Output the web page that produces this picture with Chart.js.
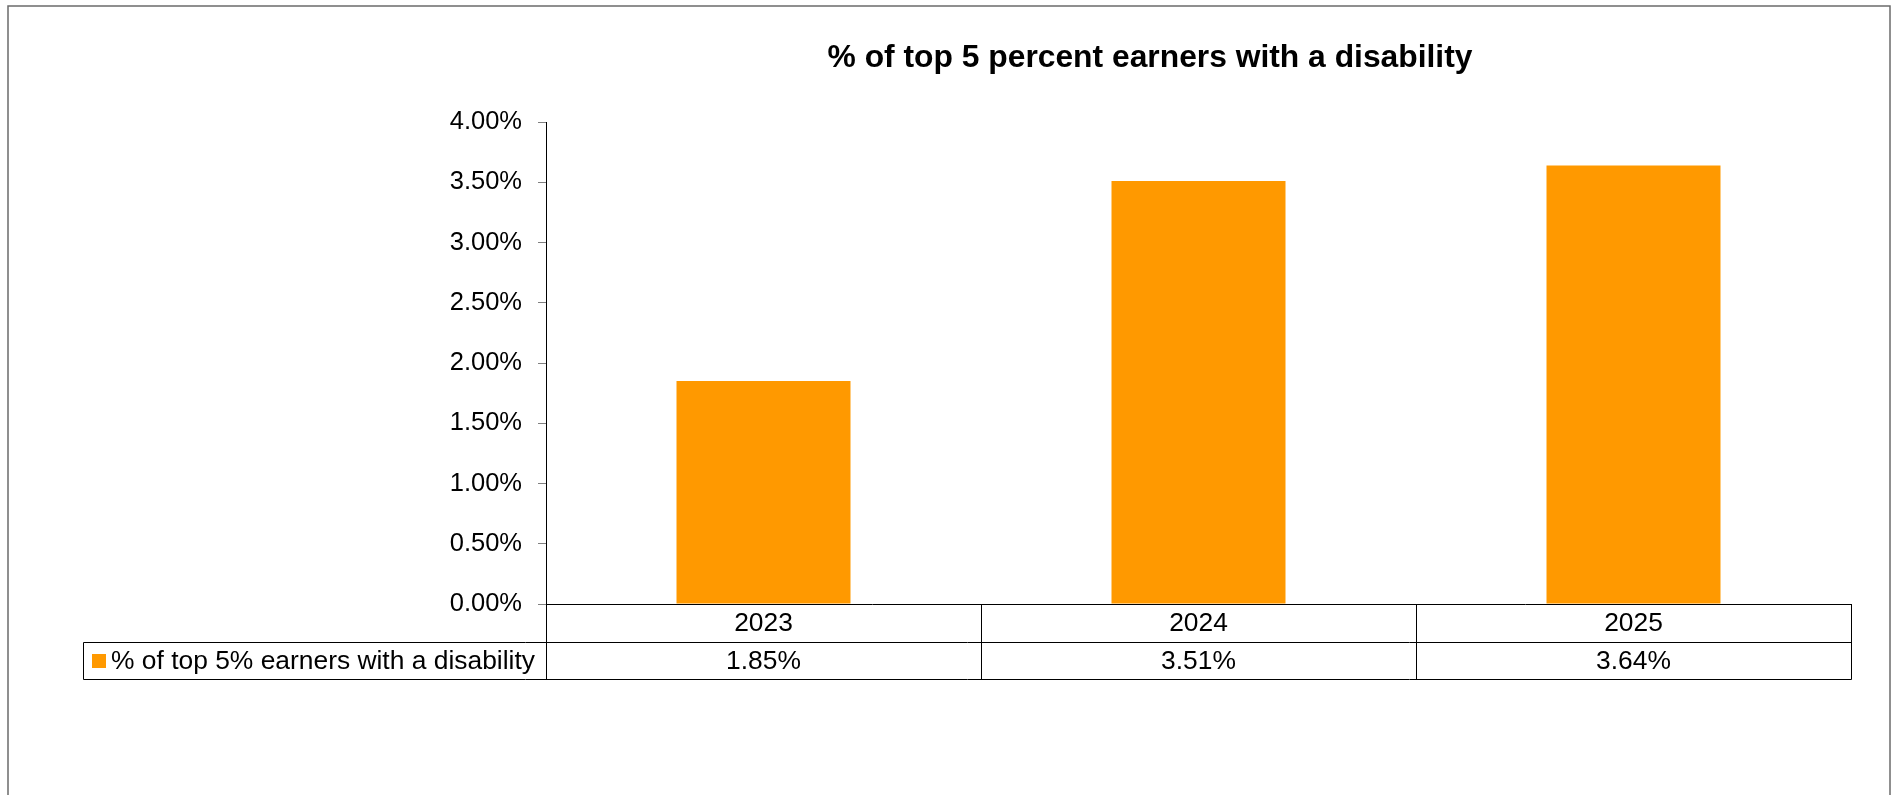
<!DOCTYPE html>
<html>
<head>
<meta charset="utf-8">
<title>% of top 5 percent earners with a disability</title>
<script src="https://cdn.jsdelivr.net/npm/chart.js@4.4.1/dist/chart.umd.min.js"></script>
<style>
  html, body { margin: 0; padding: 0; background: #fff; overflow: hidden; }
  #wrap { position: relative; width: 1903px; height: 795px; }
</style>
</head>
<body>
<div id="wrap"><canvas id="chart"></canvas></div>
<script>
// Chart data
const years = ['2023', '2024', '2025'];
const shareValues = [1.85, 3.51, 3.64];
const seriesName = '% of top 5% earners with a disability';
const chartTitle = '% of top 5 percent earners with a disability';
const yMax = 4;
const yStep = 0.5;

const barColor = '#FF9900';
const fontFamily = '"Liberation Sans", Arial, sans-serif';

function formatPct(v) {
    return v.toFixed(2) + '%';
}

// Outer frame and title
const frameAndTitle = {
    id: 'frameAndTitle',
    beforeDraw(chart) {
        const ctx = chart.ctx;
        ctx.save();
        ctx.fillStyle = '#fff';
        ctx.fillRect(0, 0, chart.width, chart.height);
        ctx.strokeStyle = '#6b6b6b';
        ctx.lineWidth = 1.5;
        ctx.strokeRect(8, 6, 1882, chart.height + 10);
        ctx.restore();
    },
    afterDraw(chart) {
        const ctx = chart.ctx;
        ctx.save();
        ctx.fillStyle = '#000';
        ctx.font = 'bold 31.8px ' + fontFamily;
        ctx.textAlign = 'center';
        ctx.textBaseline = 'alphabetic';
        ctx.fillText(chartTitle, 1150, 67);
        ctx.restore();
    }
};

// Data table under the x axis, lined up with the category scale
const dataTable = {
    id: 'dataTable',
    afterDraw(chart) {
        const ctx = chart.ctx;
        const x = chart.scales.x;
        const area = chart.chartArea;
        const top = area.bottom;
        const mid = top + 38;
        const bottom = top + 75;
        const tableLeft = 83;
        const half = (x.getPixelForTick(1) - x.getPixelForTick(0)) / 2;

        const line = (x1, y1, x2, y2) => {
            ctx.beginPath();
            ctx.moveTo(Math.round(x1) + 0.5, Math.round(y1) + 0.5);
            ctx.lineTo(Math.round(x2) + 0.5, Math.round(y2) + 0.5);
            ctx.stroke();
        };

        ctx.save();
        ctx.strokeStyle = '#000';
        ctx.lineWidth = 1;

        // horizontal rules
        line(tableLeft, mid, area.right, mid);
        line(tableLeft, bottom, area.right, bottom);
        // left edge of legend cell and axis continuation
        line(tableLeft, mid, tableLeft, bottom);
        line(area.left, top, area.left, bottom);
        years.forEach((y, i) => {
            const right = x.getPixelForTick(i) + half;
            line(right, top, right, bottom);
        });

        ctx.fillStyle = '#000';
        ctx.font = '26.4px ' + fontFamily;
        ctx.textAlign = 'center';
        ctx.textBaseline = 'middle';
        years.forEach((y, i) => {
            const cx = x.getPixelForTick(i);
            ctx.fillText(y, cx, (top + mid) / 2 + 1);
            ctx.fillText(formatPct(shareValues[i]), cx, (mid + bottom) / 2 + 1);
        });

        // legend key
        const rowMid = (mid + bottom) / 2;
        ctx.fillStyle = barColor;
        ctx.fillRect(92, Math.round(rowMid - 7), 14, 14);
        ctx.fillStyle = '#000';
        ctx.textAlign = 'left';
        ctx.fillText(seriesName, 111, rowMid + 1);
        ctx.restore();
    }
};

const ctx = document.getElementById('chart').getContext('2d');
new Chart(ctx, {
    type: 'bar',
    data: {
        labels: years,
        datasets: [{
            label: seriesName,
            data: shareValues,
            backgroundColor: barColor,
            borderWidth: 0,
            categoryPercentage: 1,
            barPercentage: 0.4
        }]
    },
    options: {
        responsive: true,
        maintainAspectRatio: false,
        animation: false,
        layout: {
            padding: { top: 122, left: 0, right: 52, bottom: 191 }
        },
        plugins: {
            legend: { display: false },
            title: { display: false },
            tooltip: { enabled: false }
        },
        scales: {
            x: {
                ticks: { display: false },
                grid: { display: false },
                border: { display: true, color: '#000', width: 1 },
                afterFit: scale => { scale.height = 0; }
            },
            y: {
                min: 0,
                max: yMax,
                ticks: {
                    stepSize: yStep,
                    padding: 16,
                    color: '#000',
                    font: { family: fontFamily, size: 25.5 },
                    callback: v => formatPct(v)
                },
                grid: {
                    drawOnChartArea: false,
                    drawTicks: true,
                    tickLength: 8,
                    color: '#808080'
                },
                border: { display: true, color: '#000', width: 1 },
                afterFit: scale => { scale.width = 546; }
            }
        }
    },
    plugins: [frameAndTitle, dataTable]
});
</script>
</body>
</html>
